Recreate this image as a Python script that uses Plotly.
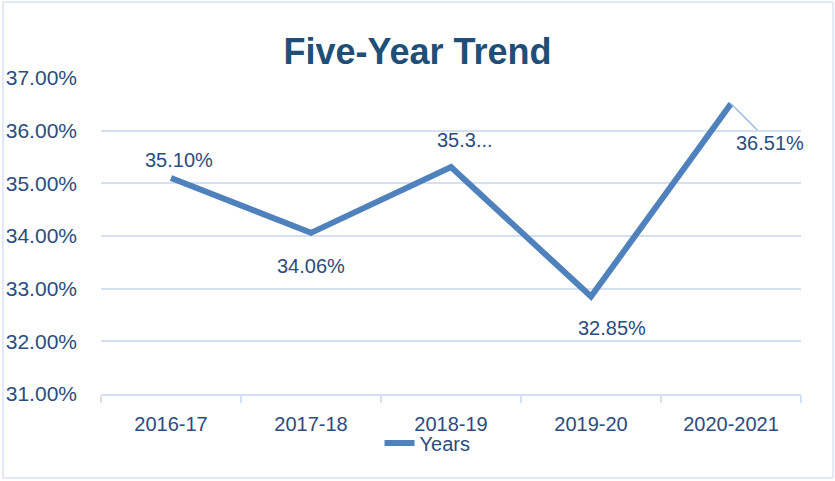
import plotly.graph_objects as go

years = ["2016-17", "2017-18", "2018-19", "2019-20", "2020-2021"]
values = [35.10, 34.06, 35.31, 32.85, 36.51]
label_texts = ["35.10%", "34.06%", "35.3...", "32.85%", "36.51%"]
y_ticks = [31, 32, 33, 34, 35, 36, 37]
y_tick_labels = ["31.00%", "32.00%", "33.00%", "34.00%", "35.00%", "36.00%", "37.00%"]

# label offsets in px (dx, dy) relative to each point
label_offsets = [(8, -18), (0, 33), (14, -27), (21, 31), (39, 39)]

FONT = "Liberation Sans, Arial, sans-serif"
LABEL_COLOR = "#2B4C7E"
GRID = "#D5E1F2"

fig = go.Figure()
fig.add_trace(go.Scatter(
    x=years, y=values, mode="lines", name="Years",
    line=dict(color="#4F81BD", width=6),
))

annotations = []
for i, (xv, yv, t) in enumerate(zip(years, values, label_texts)):
    dx, dy = label_offsets[i]
    if i == len(years) - 1:
        annotations.append(dict(
            x=xv, y=yv, xref="x", yref="y", text=t,
            showarrow=True, arrowhead=0, arrowwidth=1.5, arrowcolor="#9DBBE3",
            ax=dx, ay=dy, font=dict(family=FONT, size=20, color=LABEL_COLOR),
        ))
    else:
        annotations.append(dict(
            x=xv, y=yv, xref="x", yref="y", text=t, showarrow=False,
            xshift=dx, yshift=-dy, font=dict(family=FONT, size=20, color=LABEL_COLOR),
        ))

fig.update_layout(
    width=835, height=481,
    margin=dict(l=101, r=34, t=78, b=87, autoexpand=False),
    paper_bgcolor="white", plot_bgcolor="white",
    title=dict(text="<b>Five-Year Trend</b>", x=0.5, xref="container", xanchor="center",
               y=1 - 51 / 481, yref="container", yanchor="middle",
               font=dict(family=FONT, size=36, color="#1F4E79")),
    showlegend=True,
    legend=dict(orientation="h", x=0.5 + 10 / 835, xref="container", xanchor="center",
                y=1 - 443 / 481, yref="container", yanchor="middle",
                font=dict(family=FONT, size=20, color=LABEL_COLOR),
                bgcolor="rgba(0,0,0,0)"),
    annotations=annotations,
    shapes=[dict(type="rect", xref="paper", yref="paper",
                 x0=(3 - 101) / 700, x1=(833 - 101) / 700,
                 y0=(394 - 478) / 316, y1=(394 - 2) / 316,
                 line=dict(color="#DAE3F3", width=1.5), layer="below")],
)

fig.update_xaxes(
    type="category", range=[-0.5, len(years) - 0.5],
    showgrid=False, showline=True, linecolor=GRID, linewidth=2,
    ticks="outside", tickson="boundaries", ticklen=7, tickcolor=GRID, tickwidth=2,
    tickfont=dict(family=FONT, size=20, color=LABEL_COLOR),
    ticklabelstandoff=11,
)
fig.update_yaxes(
    range=[31, 37], tickvals=y_ticks, ticktext=y_tick_labels,
    showgrid=True, gridcolor=GRID, gridwidth=2, zeroline=False, showline=False,
    tickfont=dict(family=FONT, size=21, color=LABEL_COLOR),
    ticklabelstandoff=23,
)

fig.write_html(
    "out.html",
    config={"displayModeBar": False},
    post_script="document.body.style.margin='0';document.body.style.overflow='hidden';",
)
